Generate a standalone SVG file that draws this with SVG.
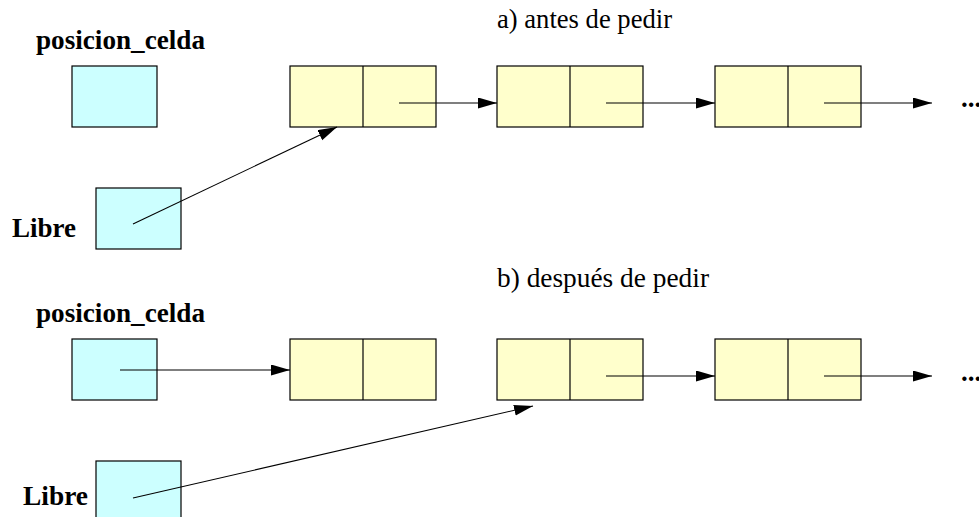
<svg xmlns="http://www.w3.org/2000/svg" width="979" height="517" viewBox="0 0 979 517">
<style>
.cyan{fill:#CCFFFF;stroke:#000;stroke-width:1.2}
.cell{fill:#FFFFCC;stroke:#000;stroke-width:1.2}
.div{stroke:#000;stroke-width:1.2}
.lbl{font-family:"Liberation Serif","Times New Roman",serif;font-size:27px;font-weight:bold;fill:#000}
.ttl{font-family:"Liberation Serif","Times New Roman",serif;font-size:26.5px;fill:#000}
.conn line{stroke:#000;stroke-width:1.1;fill:none}
</style>
<defs>
<marker id="ah" markerUnits="userSpaceOnUse" markerWidth="20" markerHeight="12" refX="19" refY="5.5" orient="auto">
<path d="M0,0 L19,5.5 L0,11 z" fill="#000"/>
</marker>
</defs>
<rect width="979" height="517" fill="#fff"/>

<g id="titles">
<text class="ttl" x="497" y="28" textLength="175" lengthAdjust="spacingAndGlyphs">a) antes de pedir</text>
<text class="ttl" x="497" y="287" textLength="212" lengthAdjust="spacingAndGlyphs">b) después de pedir</text>
</g>

<!-- a) antes de pedir -->
<g id="a_posicion_celda">
<text class="lbl" x="36" y="49" textLength="169" lengthAdjust="spacingAndGlyphs">posicion_celda</text>
<rect class="cyan" x="72" y="66" width="85" height="61"/>
</g>
<g id="a_libre">
<text class="lbl" x="12" y="237" textLength="64" lengthAdjust="spacingAndGlyphs">Libre</text>
<rect class="cyan" x="96" y="188" width="85" height="61"/>
</g>
<g id="a_cell1">
<rect class="cell" x="290" y="66" width="146" height="61"/>
<line class="div" x1="363" y1="66" x2="363" y2="127"/>
</g>
<g id="a_cell2">
<rect class="cell" x="497" y="66" width="146" height="61"/>
<line class="div" x1="570" y1="66" x2="570" y2="127"/>
</g>
<g id="a_cell3">
<rect class="cell" x="715" y="66" width="146" height="61"/>
<line class="div" x1="788" y1="66" x2="788" y2="127"/>
</g>
<g id="a_dots">
<text class="lbl" x="961" y="107">...</text>
</g>

<!-- b) despues de pedir -->
<g id="b_posicion_celda">
<text class="lbl" x="36" y="322" textLength="169" lengthAdjust="spacingAndGlyphs">posicion_celda</text>
<rect class="cyan" x="72" y="339" width="85" height="61"/>
</g>
<g id="b_libre">
<text class="lbl" x="23" y="505" textLength="65" lengthAdjust="spacingAndGlyphs">Libre</text>
<rect class="cyan" x="96" y="461" width="85" height="70"/>
</g>
<g id="b_cell1">
<rect class="cell" x="290" y="339" width="146" height="61"/>
<line class="div" x1="363" y1="339" x2="363" y2="400"/>
</g>
<g id="b_cell2">
<rect class="cell" x="497" y="339" width="146" height="61"/>
<line class="div" x1="570" y1="339" x2="570" y2="400"/>
</g>
<g id="b_cell3">
<rect class="cell" x="715" y="339" width="146" height="61"/>
<line class="div" x1="788" y1="339" x2="788" y2="400"/>
</g>
<g id="b_dots">
<text class="lbl" x="961" y="381">...</text>
</g>

<g id="connectors" class="conn">
<line x1="399" y1="103" x2="497" y2="103" marker-end="url(#ah)"/>
<line x1="606" y1="103" x2="715" y2="103" marker-end="url(#ah)"/>
<line x1="824" y1="103" x2="932" y2="103" marker-end="url(#ah)"/>
<line x1="133" y1="224" x2="337" y2="127" marker-end="url(#ah)"/>
<line x1="120" y1="370" x2="290" y2="370" marker-end="url(#ah)"/>
<line x1="606" y1="376" x2="715" y2="376" marker-end="url(#ah)"/>
<line x1="824" y1="376" x2="932" y2="376" marker-end="url(#ah)"/>
<line x1="133" y1="498" x2="533" y2="406" marker-end="url(#ah)"/>
</g>
</svg>
